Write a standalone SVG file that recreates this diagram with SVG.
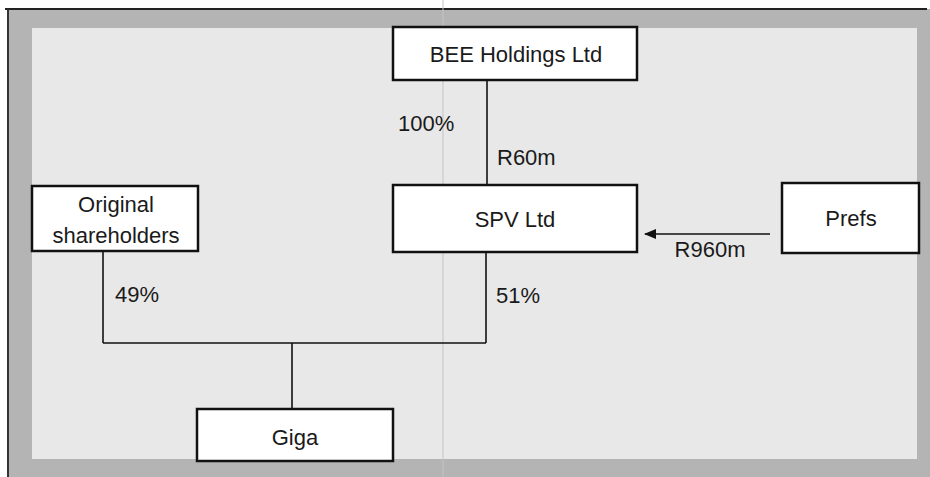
<svg xmlns="http://www.w3.org/2000/svg" width="930" height="477" viewBox="0 0 930 477">
  <defs>
    <style>
      .box { fill: #ffffff; stroke: #111111; stroke-width: 2.5; }
      .lbl { font-family: "Liberation Sans", Arial, sans-serif; font-size: 22px; fill: #1a1a1a; }
      .mid { text-anchor: middle; }
      .conn { stroke: #111111; stroke-width: 1.6; fill: none; }
    </style>
    <marker id="arrow" viewBox="0 0 12 10" refX="11" refY="5" markerWidth="12" markerHeight="10" markerUnits="userSpaceOnUse" orient="auto">
      <path d="M0,0 L12,5 L0,10 Z" fill="#111111"/>
    </marker>
  </defs>

  <rect x="0" y="0" width="930" height="477" fill="#ffffff"/>
  <g id="frame">
    <rect x="8" y="9" width="922" height="468" fill="#b4b4b4"/>
    <rect x="32" y="28" width="885" height="431" fill="#e8e8e8"/>
    <line x1="5" y1="9" x2="927" y2="9" stroke="#222222" stroke-width="2"/>
    <line x1="8" y1="9" x2="8" y2="477" stroke="#333333" stroke-width="2"/>
    <line x1="443" y1="0" x2="443" y2="477" stroke="#c4c4c4" stroke-width="1"/>
  </g>

  <g id="connectors">
    <line class="conn" x1="487" y1="80" x2="487" y2="185"/>
    <line class="conn" x1="486" y1="252" x2="486" y2="343"/>
    <line class="conn" x1="103" y1="251" x2="103" y2="343"/>
    <line class="conn" x1="103" y1="343" x2="486" y2="343"/>
    <line class="conn" x1="292" y1="343" x2="292" y2="409"/>
    <line class="conn" x1="770" y1="234" x2="645" y2="234" marker-end="url(#arrow)"/>
    <text class="lbl" x="398" y="131">100%</text>
    <text class="lbl" x="497" y="165">R60m</text>
    <text class="lbl" x="496" y="303">51%</text>
    <text class="lbl" x="115" y="302">49%</text>
    <text class="lbl mid" x="710" y="257">R960m</text>
  </g>

  <g id="bee">
    <rect class="box" x="393" y="27" width="244" height="53"/>
    <text class="lbl mid" x="516" y="62">BEE Holdings Ltd</text>
  </g>
  <g id="spv">
    <rect class="box" x="393" y="185" width="244" height="67"/>
    <text class="lbl mid" x="515" y="227">SPV Ltd</text>
  </g>
  <g id="prefs">
    <rect class="box" x="782" y="183" width="137" height="70"/>
    <text class="lbl mid" x="851" y="226">Prefs</text>
  </g>
  <g id="original">
    <rect class="box" x="32" y="186" width="166" height="65"/>
    <text class="lbl mid" x="116" y="212">Original</text>
    <text class="lbl mid" x="116" y="243">shareholders</text>
  </g>
  <g id="giga">
    <rect class="box" x="197" y="409" width="196" height="52"/>
    <text class="lbl mid" x="295" y="445">Giga</text>
  </g>
</svg>
